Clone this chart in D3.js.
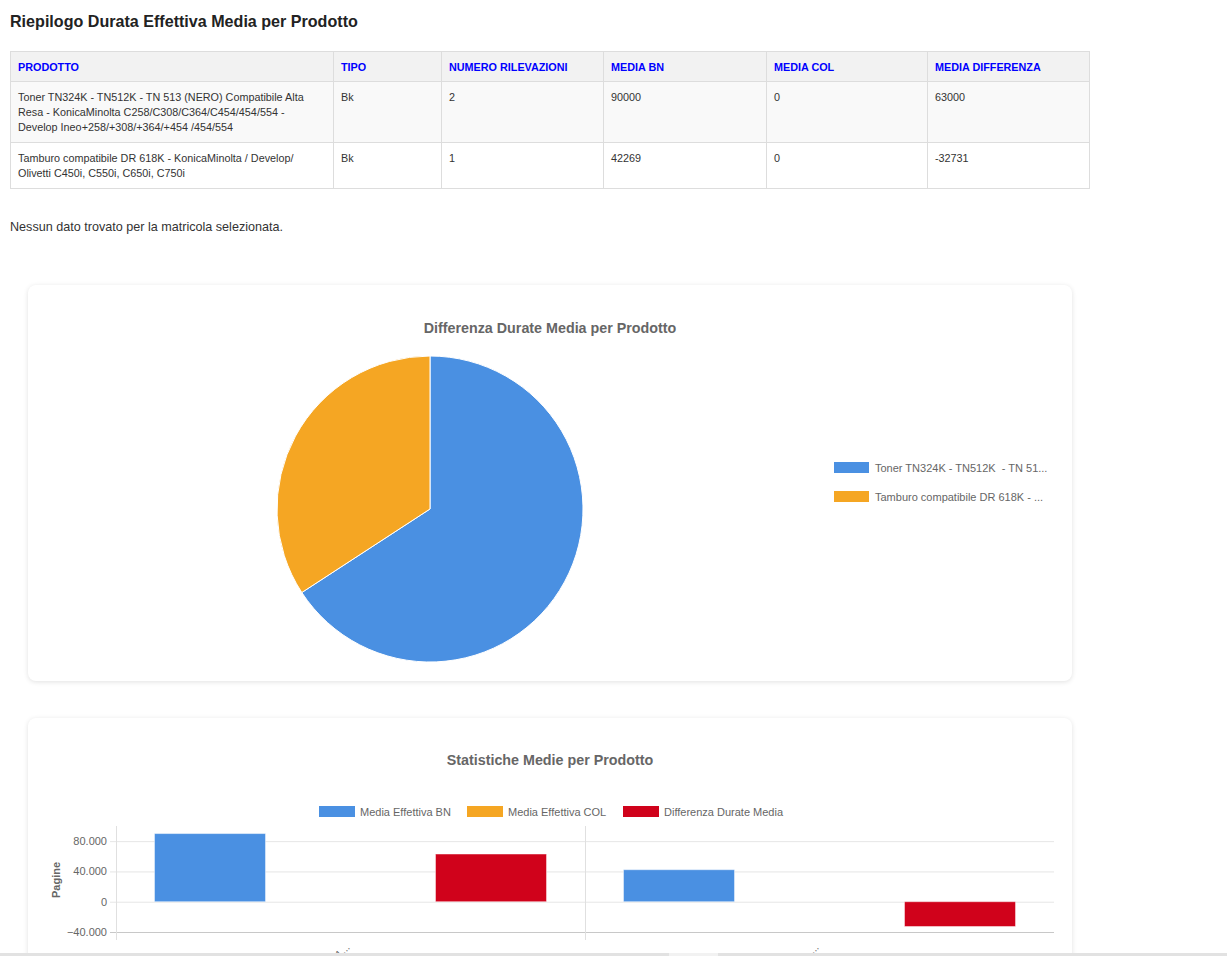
<!DOCTYPE html>
<html>
<head>
<meta charset="utf-8">
<script src="https://cdn.jsdelivr.net/npm/d3@7"></script>
<style>
  html, body { margin: 0; padding: 0; background: #fff; overflow: hidden; }
  body { font-family: "Liberation Sans", Arial, sans-serif; color: #333; width: 1227px; height: 956px; position: relative; }
  h2 { position: absolute; left: 10px; top: 11px; margin: 0; font-size: 16.1px; font-weight: bold; color: #222; line-height: 20px; }
  table { position: absolute; left: 10px; top: 51px; border-collapse: collapse; table-layout: fixed; font-size: 10.8px; }
  th, td { border: 1px solid #ddd; padding: 8px 7px 7px 7px; text-align: left; vertical-align: top; }
  th { background: #f2f2f2; color: #0000ff; font-weight: bold; line-height: 14px; }
  td { line-height: 15px; color: #333; }
  tr.odd td { background: #f9f9f9; }
  .msg { position: absolute; left: 10px; top: 220px; font-size: 12.6px; color: #333; }
  .card { position: absolute; left: 28px; width: 1044px; background: #fff; border-radius: 8px; box-shadow: 0 1px 5px rgba(0,0,0,0.12); }
  svg { position: absolute; left: 0; top: 0; }
  .strip { position: absolute; left: 0; top: 953px; width: 1227px; height: 3px; background: #e2e2e2; }
  .strip .thumb { position: absolute; left: 669px; width: 49px; height: 3px; background: #f2f2f2; }
</style>
</head>
<body>
<h2 id="title"></h2>
<table id="tbl"></table>
<div class="msg" id="msg"></div>
<div class="card" id="pieCard" style="top:285px;height:396px;"></div>
<div class="card" id="barCard" style="top:718px;height:300px;"></div>
<svg id="chart" width="1227" height="956"></svg>
<div class="strip"><div class="thumb"></div></div>
<script>
// ---------- DATA ----------
const pageTitle = "Riepilogo Durata Effettiva Media per Prodotto";
const noDataMsg = "Nessun dato trovato per la matricola selezionata.";
const columns = ["PRODOTTO", "TIPO", "NUMERO RILEVAZIONI", "MEDIA BN", "MEDIA COL", "MEDIA DIFFERENZA"];
const products = [
  "Toner TN324K - TN512K  - TN 513 (NERO) Compatibile Alta Resa - KonicaMinolta C258/C308/C364/C454/454/554 - Develop Ineo+258/+308/+364/+454 /454/554",
  "Tamburo compatibile DR 618K - KonicaMinolta / Develop/ Olivetti C450i, C550i, C650i, C750i"
];
const tipo = ["Bk", "Bk"];
const numeroRilevazioni = [2, 1];
const mediaBN = [90000, 42269];
const mediaCOL = [0, 0];
const mediaDifferenza = [63000, -32731];

const pieTitle = "Differenza Durate Media per Prodotto";
const barTitle = "Statistiche Medie per Prodotto";
const seriesNames = ["Media Effettiva BN", "Media Effettiva COL", "Differenza Durate Media"];
const seriesColors = ["#4a90e2", "#f5a623", "#d0021b"];
const yTicks = [-40000, 0, 40000, 80000];
const yAxisLabel = "Pagine";

// ---------- TITLE / TABLE ----------
d3.select("#title").text(pageTitle);
d3.select("#msg").text(noDataMsg);
const colWidths = [323, 108, 162, 163, 161, 162];
const tbl = d3.select("#tbl");
tbl.append("colgroup").selectAll("col").data(colWidths).join("col").style("width", d => d + "px");
tbl.append("tr").selectAll("th").data(columns).join("th").text(d => d);
const rows = products.map((p, i) => [p, tipo[i], numeroRilevazioni[i], mediaBN[i], mediaCOL[i], mediaDifferenza[i]]);
tbl.selectAll("tr.r").data(rows).join("tr").attr("class", (d, i) => "r " + (i % 2 === 0 ? "odd" : "even"))
  .selectAll("td").data(d => d).join("td").text(d => d);

const svg = d3.select("#chart");
const font = "'Liberation Sans', Arial, sans-serif";
const trunc = s => s.length > 30 ? s.slice(0, 30) + "..." : s;

// ---------- PIE ----------
const pieVals = mediaDifferenza.map(Math.abs);
svg.append("text").attr("x", 550).attr("y", 333).attr("text-anchor", "middle")
  .style("font-family", font).style("font-size", "14.3px").style("font-weight", "bold").style("fill", "#666")
  .text(pieTitle);
const pie = d3.pie().sort(null).value(d => d)(pieVals);
const arc = d3.arc().innerRadius(0).outerRadius(153);
const pg = svg.append("g").attr("transform", "translate(430,509)");
pg.selectAll("path").data(pie).join("path").attr("d", arc)
  .attr("fill", (d, i) => seriesColors[i]).attr("stroke", "#fff").attr("stroke-width", 1);
const lg = svg.append("g").selectAll("g").data(products).join("g")
  .attr("transform", (d, i) => `translate(834,${462 + i * 29})`);
lg.append("rect").attr("width", 35).attr("height", 11).attr("fill", (d, i) => seriesColors[i]);
lg.append("text").attr("x", 41).attr("y", 9.5).style("white-space", "pre")
  .style("font-family", font).style("font-size", "11px").style("fill", "#666").text(d => trunc(d));

// ---------- BAR ----------
svg.append("text").attr("x", 550).attr("y", 765).attr("text-anchor", "middle")
  .style("font-family", font).style("font-size", "14.3px").style("font-weight", "bold").style("fill", "#666")
  .text(barTitle);
const blg = svg.append("g").selectAll("g").data(seriesNames).join("g")
  .attr("transform", (d, i) => `translate(${[319, 467, 623][i]},806)`);
blg.append("rect").attr("width", 36).attr("height", 11).attr("fill", (d, i) => seriesColors[i]);
blg.append("text").attr("x", 41).attr("y", 9.5)
  .style("font-family", font).style("font-size", "11px").style("fill", "#666").text(d => d);

const x0 = d3.scaleBand().domain(d3.range(products.length)).range([116, 1054]).padding(0);
const x1 = d3.scaleBand().domain(d3.range(seriesNames.length)).range([0, x0.bandwidth()])
  .paddingInner(0.21).paddingOuter(0.274);
const y = d3.scaleLinear().domain([-40000, 100000]).range([932, 826]);
const loc = d3.formatLocale({ decimal: ",", thousands: ".", grouping: [3], currency: ["", "€"] });
const fmt = loc.format(",.0f");

const gridG = svg.append("g");
gridG.selectAll("line.h").data(yTicks).join("line").attr("class", "h")
  .attr("x1", 110).attr("x2", 1054).attr("y1", d => y(d) + 0.5).attr("y2", d => y(d) + 0.5)
  .attr("stroke", (d, i) => i === 0 ? "#c8c8c8" : "#e6e6e6").attr("stroke-width", 1);
const vx = [x0.range()[0]].concat(d3.range(1, products.length).map(i => x0(i)));
gridG.selectAll("line.v").data(vx).join("line").attr("class", "v")
  .attr("x1", d => d + 0.5).attr("x2", d => d + 0.5).attr("y1", 826).attr("y2", 940)
  .attr("stroke", "#e0e0e0");

const yAxis = svg.append("g").attr("transform", "translate(116,0)")
  .call(d3.axisLeft(y).tickValues(yTicks).tickFormat(fmt).tickSize(0).tickPadding(9));
yAxis.select(".domain").remove();
yAxis.selectAll("text").style("font-family", font).style("font-size", "11px").style("fill", "#666");

svg.append("text").attr("transform", "translate(60,880) rotate(-90)").attr("text-anchor", "middle")
  .style("font-family", font).style("font-size", "11px").style("font-weight", "bold").style("fill", "#666")
  .text(yAxisLabel);

const seriesData = [mediaBN, mediaCOL, mediaDifferenza];
const groups = svg.append("g").selectAll("g").data(products).join("g")
  .attr("transform", (d, i) => `translate(${x0(i)},0)`);
groups.selectAll("rect").data((d, i) => seriesData.map((s, k) => ({ k, v: s[i] }))).join("rect")
  .attr("x", d => x1(d.k)).attr("width", x1.bandwidth())
  .attr("y", d => y(Math.max(0, d.v))).attr("height", d => Math.abs(y(d.v) - y(0)))
  .attr("fill", d => seriesColors[d.k]).attr("stroke", "rgba(255,255,255,0.45)").attr("stroke-width", 1);

// rotated x labels (mostly below the visible area, as in the reference)
svg.append("g").selectAll("text").data(products).join("text")
  .attr("transform", (d, i) => `translate(${x0(i) + x0.bandwidth() / 2},948) rotate(-45)`)
  .attr("text-anchor", "end")
  .style("font-family", font).style("font-size", "11px").style("fill", "#666").text(d => trunc(d));
</script>
</body>
</html>
